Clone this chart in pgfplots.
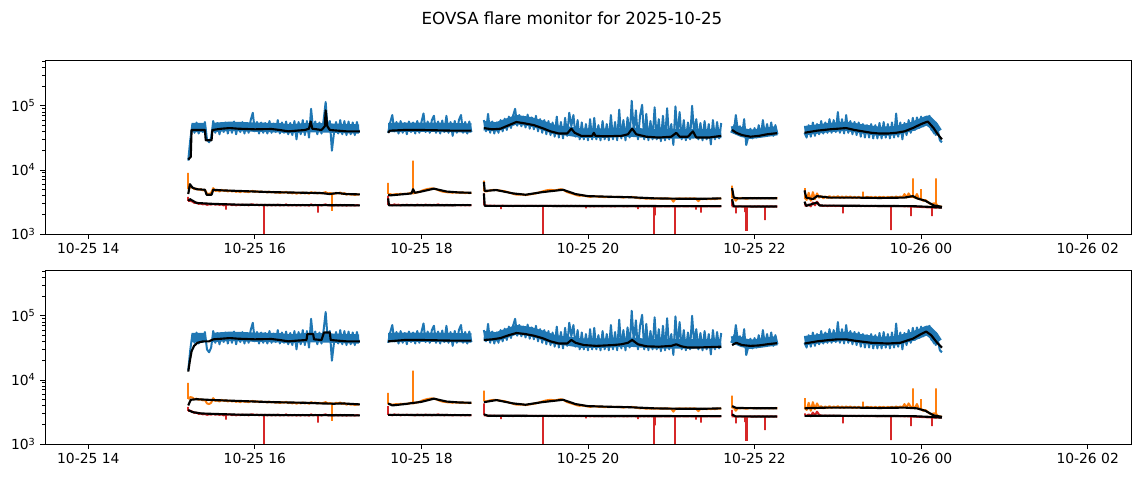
\documentclass[border=0pt]{standalone}
\usepackage{fontspec}
\setmainfont{DejaVu Sans}
\usepackage{pgfplots}
\usepackage{pgfplotstable}
\pgfplotsset{compat=1.18}

\definecolor{tabblue}{HTML}{1F77B4}
\definecolor{taborange}{HTML}{FF7F0E}
\definecolor{tabred}{HTML}{D62728}

% time (hours of 2025-10-25), three channels; nan rows split the observing blocks
\pgfplotstableread{
t b o r
15.200 14000 5000 3300
15.225 30000 5400 3300
15.250 52000 5300 3200
15.275 38000 5000 3050
15.300 55000 5100 3100
15.325 37000 4900 2950
15.350 50000 5000 3000
15.375 39000 4800 2900
15.400 56000 4900 2950
15.425 30000 4300 2850
15.450 27000 4200 2900
15.475 32000 4400 2880
15.500 58000 5200 2950
15.525 38000 4700 2870
15.550 54000 4800 2920
15.575 36000 4600 2850
15.600 52000 4900 2900
15.625 39000 4700 2800
15.650 55000 4800 2850
15.675 37000 4600 2880
15.700 51000 4750 2900
15.725 38000 4600 2820
15.750 57000 4700 2880
15.775 36000 4550 2800
15.800 53000 4650 2870
15.825 39000 4500 2810
15.850 56000 4700 2880
15.875 37000 4550 2820
15.900 54000 4600 2860
15.925 38000 4500 2800
15.950 60000 4650 2880
15.975 78000 4700 2900
16.000 40000 4550 2820
16.025 56000 4650 2870
16.050 37000 4500 2800
16.075 55000 4600 2860
16.100 38000 4500 2820
16.125 54000 4550 2850
16.150 37000 4450 2800
16.175 58000 4600 2860
16.200 38000 4450 2790
16.225 53000 4550 2850
16.250 39000 4400 2800
16.275 60000 4500 2870
16.300 37000 4350 2790
16.325 55000 4500 2840
16.350 38000 4400 2800
16.375 57000 4550 2900
16.400 36000 4350 2780
16.425 54000 4450 2840
16.450 35000 4300 2790
16.475 58000 4450 2850
16.500 30000 4250 2780
16.525 56000 4400 2840
16.550 36000 4300 2780
16.575 60000 4450 2850
16.600 35000 4300 2790
16.625 58000 4400 2840
16.650 32000 4250 2770
16.675 90000 4500 2900
16.700 42000 4350 2800
16.725 57000 4450 2850
16.750 36000 4300 2800
16.775 55000 4400 2840
16.800 37000 4300 2780
16.825 59000 4400 2850
16.850 115000 4500 2900
16.875 42000 4300 2790
16.900 58000 4350 2840
16.925 20000 4300 2780
16.950 38000 4200 2800
16.975 56000 4400 2850
17.000 37000 4300 2790
17.025 60000 4450 2850
17.050 36000 4200 2780
17.075 58000 4350 2840
17.100 35000 4100 2780
17.125 57000 4250 2830
17.150 36000 4100 2790
17.175 55000 4200 2830
17.200 35000 4050 2780
17.225 56000 4150 2820
17.250 38000 4100 2800
17.275 nan nan nan
17.600 38000 4200 2850
17.625 55000 4200 2850
17.650 72000 4100 2800
17.675 40000 4150 2900
17.700 56000 4200 2830
17.725 37000 4150 2870
17.750 58000 4250 2800
17.775 38000 4200 2860
17.800 54000 4250 2820
17.825 36000 4200 2870
17.850 57000 4300 2810
17.875 39000 4400 2850
17.900 55000 4300 2830
17.925 37000 4400 2800
17.950 58000 4450 2870
17.975 38000 4550 2820
18.000 56000 4700 2850
18.025 76000 4850 2800
18.050 39000 4950 2880
18.075 57000 5050 2820
18.100 38000 5100 2860
18.125 60000 5150 2800
18.150 70000 5100 2850
18.175 38000 5000 2820
18.200 57000 4850 2900
18.225 37000 4700 2810
18.250 59000 4600 2850
18.275 39000 4550 2800
18.300 70000 4500 2860
18.325 38000 4450 2820
18.350 56000 4450 2840
18.375 34000 4400 2790
18.400 58000 4500 2850
18.425 38000 4400 2810
18.450 60000 4450 2830
18.475 72000 4400 2800
18.500 38000 4450 2850
18.525 56000 4350 2790
18.550 37000 4400 2840
18.575 57000 4350 2800
18.600 39000 4400 2830
18.625 nan nan nan
18.750 60000 4700 2800
18.775 40000 4600 2800
18.800 75000 4700 2750
18.825 38000 4800 2780
18.850 57000 4850 2740
18.875 37000 4900 2770
18.900 55000 4850 2730
18.925 38000 4800 2760
18.950 60000 4750 2740
18.975 40000 4700 2770
19.000 63000 4650 2740
19.025 42000 4550 2760
19.050 68000 4450 2730
19.075 45000 4350 2750
19.100 70000 4250 2720
19.125 90000 4150 2760
19.150 49000 4100 2740
19.175 72000 4100 2760
19.200 48000 4150 2730
19.225 68000 4100 2750
19.250 46000 4050 2720
19.275 73000 4100 2760
19.300 44000 4150 2740
19.325 66000 4200 2760
19.350 43000 4250 2730
19.375 70000 4300 2750
19.400 40000 4400 2720
19.425 62000 4500 2760
19.450 38000 4600 2740
19.475 60000 4700 2740
19.500 36000 4800 2760
19.525 58000 4850 2730
19.550 35000 4900 2750
19.575 55000 4850 2720
19.600 33000 4800 2750
19.625 68000 4850 2730
19.650 32000 4950 2740
19.675 56000 5000 2720
19.700 31000 4900 2750
19.725 65000 4700 2730
19.750 34000 4500 2740
19.775 78000 4400 2720
19.800 48000 4300 2750
19.825 72000 4200 2720
19.850 33000 4100 2740
19.875 60000 4000 2720
19.900 30000 3950 2740
19.925 55000 4000 2710
19.950 30000 3950 2730
19.975 52000 3900 2710
20.000 29000 3850 2730
20.025 62000 3800 2700
20.050 30000 3850 2720
20.075 65000 3900 2700
20.100 30000 3850 2730
20.125 50000 3800 2710
20.150 29000 3850 2720
20.175 58000 3800 2700
20.200 30000 3750 2730
20.225 52000 3800 2710
20.250 29000 3750 2720
20.275 72000 3800 2700
20.300 30000 3800 2720
20.325 56000 3750 2700
20.350 29000 3800 2730
20.375 87000 3800 2710
20.400 31000 3750 2730
20.425 60000 3700 2700
20.450 29000 3750 2720
20.475 66000 3800 2700
20.500 32000 3750 2730
20.525 120000 3800 2710
20.550 38000 3750 2730
20.575 85000 3700 2700
20.600 30000 3650 2720
20.625 70000 3600 2700
20.650 104000 3650 2720
20.675 30000 3600 2700
20.700 75000 3550 2720
20.725 29000 3600 2700
20.750 58000 3550 2720
20.775 30000 3600 2690
20.800 95000 3550 2700
20.825 30000 3600 2700
20.850 62000 3550 2710
20.875 28000 3600 2690
20.900 70000 3550 2720
20.925 29000 3600 2700
20.950 92000 3550 2710
20.975 30000 3600 2700
21.000 52000 3550 2720
21.025 24500 3200 2690
21.050 98000 3550 2700
21.075 33000 3550 2710
21.100 80000 3600 2700
21.125 30000 3550 2720
21.150 60000 3550 2700
21.175 29000 3600 2710
21.200 55000 3550 2700
21.225 30000 3600 2720
21.250 100000 3550 2690
21.275 36000 3600 2710
21.300 62000 3550 2700
21.325 30000 3250 2710
21.350 54000 3550 2700
21.375 29000 3500 2700
21.400 58000 3550 2710
21.425 30000 3500 2690
21.450 52000 3550 2720
21.475 25000 3500 2700
21.500 60000 3550 2710
21.525 30000 3500 2690
21.550 56000 3600 2710
21.575 31000 3550 2700
21.600 54000 3600 2720
21.625 nan nan nan
21.725 48000 3700 2700
21.750 38000 3700 2700
21.775 72000 3300 2680
21.800 40000 3650 2680
21.825 48000 3600 2700
21.850 35000 3650 2680
21.875 62000 3600 2680
21.900 24500 3550 2680
21.925 33000 3600 2680
21.950 44000 3650 2690
21.975 31000 3600 2670
22.000 45000 3650 2690
22.025 32000 3600 2680
22.050 50000 3650 2700
22.075 33000 3600 2680
22.100 60000 3650 2690
22.125 34000 3600 2680
22.150 52000 3650 2690
22.175 35000 3600 2680
22.200 55000 3650 2700
22.225 34000 3600 2680
22.250 50000 3650 2690
22.275 36000 3600 2680
22.300 nan nan nan
22.600 38000 3700 2800
22.625 32000 3400 2750
22.650 50000 4400 2900
22.675 33000 3300 2700
22.700 55000 4500 3100
22.725 34000 3500 2800
22.750 52000 4300 3200
22.775 36000 3700 2850
22.800 58000 3900 2780
22.825 37000 3600 2740
22.850 55000 3850 2780
22.875 38000 3650 2730
22.900 62000 3900 2770
22.925 38000 3650 2740
22.950 60000 3850 2770
22.975 39000 3700 2730
23.000 80000 3900 2760
23.025 38000 3650 2740
23.050 62000 3850 2740
23.075 37000 3650 2740
23.100 72000 3850 2760
23.125 38000 3700 2730
23.150 58000 3850 2760
23.175 36000 3650 2730
23.200 56000 3800 2750
23.225 35000 3650 2720
23.250 55000 3800 2750
23.275 33000 3650 2720
23.300 52000 3700 2750
23.325 32000 3650 2720
23.350 50000 3800 2740
23.375 32000 3700 2710
23.400 52000 3800 2740
23.425 31000 3650 2720
23.450 50000 3800 2740
23.475 31000 3650 2710
23.500 54000 3800 2730
23.525 31000 3700 2720
23.550 56000 3800 2740
23.575 32000 3650 2710
23.600 52000 3800 2730
23.625 31000 3700 2720
23.650 55000 3800 2720
23.675 32000 3650 2740
23.700 76000 3850 2720
23.725 33000 3700 2730
23.750 55000 3850 2710
23.775 30000 3700 2730
23.800 54000 4200 2700
23.825 35000 3700 2720
23.850 60000 4300 2690
23.875 38000 3800 2690
23.900 65000 3800 2680
23.925 42000 3700 2670
23.950 66000 4200 2660
23.975 45000 3500 2650
24.000 68000 3500 2640
24.025 48000 3300 2630
24.050 66000 3400 2620
24.075 50000 3200 2610
24.100 70000 3000 2600
24.125 42000 2900 2600
24.150 55000 3000 2590
24.175 35000 3000 2580
24.200 42000 2750 2600
24.225 29000 2700 2580
24.250 27000 2650 2600
}\rawdata

% solid core of the blue channel (centre of the noise band)
\pgfplotstableread{
t v
15.24 46000
15.40 46000
15.44 nan
15.49 46000
15.70 48000
16.00 46500
16.30 45500
16.40 44000
16.60 45500
16.80 45500
17.00 44500
17.25 43500
17.30 nan
17.60 46000
18.00 46500
18.30 46000
18.60 45000
18.65 nan
18.75 49000
18.90 47000
19.05 55000
19.14 61000
19.30 57000
19.45 50000
19.60 42500
19.75 40500
19.92 37500
20.20 37500
20.50 39000
20.80 36500
21.20 36500
21.60 37000
21.65 nan
21.73 45000
21.85 38500
21.95 36000
22.10 38000
22.27 41000
22.30 nan
22.60 41000
22.90 46000
23.10 48000
23.30 43500
23.50 40000
23.70 41000
23.90 48000
24.08 60000
24.15 49000
24.20 39000
}\bband

% isolated spikes, drawn as vertical strokes
\pgfplotstableread{
t v
15.20 5000
15.20 9000
15.20 5000
15.20 nan
17.60 4200
17.60 6300
17.60 4200
17.60 nan
18.75 4700
18.75 6800
18.75 4700
18.75 nan
21.73 3700
21.73 5700
21.73 3700
21.73 nan
22.60 3700
22.60 5200
22.60 3700
22.60 nan
16.93 4300
16.93 2300
16.93 4300
16.93 nan
17.90 4300
17.90 14000
17.90 4300
17.90 nan
23.30 3700
23.30 4600
23.30 3700
23.30 nan
23.90 3800
23.90 7400
23.90 3800
23.90 nan
24.00 3500
24.00 5000
24.00 3500
24.00 nan
24.18 3000
24.18 7400
24.18 3000
}\ospk

\pgfplotstableread{
t v
15.20 3300
15.20 3800
15.20 3300
15.20 nan
17.60 2850
17.60 3900
17.60 2850
17.60 nan
18.75 2800
18.75 4300
18.75 2800
18.75 nan
21.73 2700
21.73 3400
21.73 2700
21.73 nan
22.60 2800
22.60 3000
22.60 2800
22.60 nan
15.65 2850
15.65 2400
15.65 2850
15.65 nan
16.11 2820
16.11 400
16.11 2820
16.11 nan
16.76 2800
16.76 2150
16.76 2800
16.76 nan
18.95 2740
18.95 2450
18.95 2740
18.95 nan
19.46 2740
19.46 400
19.46 2740
19.46 nan
19.98 2720
19.98 2500
19.98 2720
19.98 nan
20.60 2720
20.60 2450
20.60 2720
20.60 nan
20.79 2700
20.79 400
20.79 2700
20.79 nan
20.81 2700
20.81 1950
20.81 2700
20.81 nan
21.04 2700
21.04 400
21.04 2700
21.04 nan
21.30 2700
21.30 2400
21.30 2700
21.30 nan
21.36 2700
21.36 2150
21.36 2700
21.36 nan
21.78 2680
21.78 2100
21.78 2680
21.78 nan
21.88 2680
21.88 2200
21.88 2680
21.88 nan
21.90 2680
21.90 1150
21.915 1150
21.915 2680
21.915 nan
22.12 2680
22.12 1650
22.12 2680
22.12 nan
23.06 2740
23.06 2100
23.06 2740
23.06 nan
23.64 2720
23.64 1150
23.64 2720
23.64 nan
23.88 2690
23.88 1900
23.88 2690
23.88 nan
24.13 2600
24.13 1900
24.13 2600
}\rspk

% smoothed curves, upper panel
\pgfplotstableread{
t v
15.20 14500
15.23 16000
15.24 42000
15.30 42000
15.40 42000
15.41 29000
15.48 29000
15.49 42000
15.60 44000
15.70 45000
15.80 44000
16.00 43000
16.20 43500
16.30 42000
16.40 40000
16.50 41000
16.60 42000
16.65 44000
16.67 57000
16.69 44000
16.80 42000
16.84 48000
16.85 85000
16.87 48000
16.90 42000
17.00 41000
17.10 40000
17.26 40000
17.30 nan
17.60 38000
17.62 41000
17.80 42000
18.00 42000
18.20 41500
18.40 41000
18.60 41000
18.65 nan
18.75 45000
18.85 43000
18.95 44000
19.05 50000
19.14 56000
19.25 53000
19.35 50000
19.45 45000
19.55 40000
19.65 37000
19.75 37000
19.80 44000
19.84 38000
19.92 34000
20.05 34000
20.07 38000
20.09 34000
20.20 33500
20.40 34000
20.48 36000
20.53 44000
20.58 36000
20.70 33000
20.85 32000
21.00 33000
21.06 38000
21.10 33000
21.20 33000
21.26 40000
21.30 32000
21.45 32000
21.60 34000
21.65 nan
21.73 42000
21.78 38000
21.85 35000
21.95 33000
22.05 34000
22.15 36000
22.27 37500
22.30 nan
22.60 38000
22.75 41000
22.90 43000
23.00 44000
23.10 45000
23.20 42000
23.30 40000
23.40 38000
23.50 37000
23.60 37000
23.70 38000
23.80 40000
23.90 45000
24.00 52000
24.08 57000
24.15 45000
24.20 36000
24.25 30000
}\btop

\pgfplotstableread{
t v
15.20 4200
15.22 6000
15.25 5300
15.30 5000
15.40 4900
15.42 4100
15.48 4100
15.50 4900
15.60 4800
15.80 4700
16.00 4600
16.20 4500
16.40 4450
16.60 4400
16.80 4350
16.90 4200
16.95 4300
17.00 4350
17.10 4200
17.26 4150
17.30 nan
17.60 4100
17.62 4000
17.80 4200
17.88 4300
17.90 5000
17.92 4400
18.00 4600
18.15 5100
18.30 4600
18.45 4450
18.60 4400
18.65 nan
18.75 6500
18.76 4700
18.90 4850
19.10 4300
19.25 4100
19.45 4500
19.70 4900
19.85 4200
20.00 3900
20.30 3800
20.50 3750
20.80 3600
21.10 3550
21.40 3550
21.60 3600
21.65 nan
21.73 5200
21.75 3700
21.80 3600
22.00 3620
22.27 3620
22.30 nan
22.60 4800
22.62 3700
22.70 3500
22.75 3900
22.90 3700
23.20 3700
23.50 3650
23.80 3700
23.90 3900
23.95 3600
24.05 3300
24.15 2800
24.25 2650
}\otop

\pgfplotstableread{
t v
15.20 3300
15.22 3500
15.30 3050
15.50 2950
15.80 2870
16.20 2830
16.80 2820
17.26 2800
17.30 nan
17.60 3600
17.61 2800
18.60 2820
18.65 nan
18.75 4300
18.76 2750
21.60 2720
21.65 nan
21.73 3500
21.75 2700
22.27 2680
22.30 nan
22.60 3200
22.62 2750
22.75 3100
22.78 2780
23.50 2740
23.90 2720
24.10 2650
24.25 2580
}\rtop

% smoothed curves, lower panel
\pgfplotstableread{
t v
15.20 13500
15.22 20000
15.24 28000
15.27 34000
15.31 38000
15.38 40000
15.45 40000
15.50 43000
15.60 44000
15.70 45000
15.80 44000
16.00 43000
16.20 43500
16.30 42000
16.40 40000
16.50 41000
16.62 42000
16.63 52000
16.70 52000
16.71 43000
16.80 42000
16.83 55000
16.90 55000
16.91 42000
17.00 41000
17.10 40000
17.26 40000
17.30 nan
17.60 40000
17.80 42000
18.00 42000
18.20 41500
18.40 41000
18.60 41000
18.65 nan
18.75 42000
18.85 43000
18.95 45000
19.05 50000
19.14 54000
19.25 52000
19.35 49000
19.45 45000
19.55 40000
19.65 37000
19.75 37000
19.80 42000
19.85 38000
19.95 35000
20.10 34000
20.30 35000
20.40 36000
20.48 38000
20.53 42000
20.60 36000
20.70 33500
20.85 33000
21.00 34000
21.06 36000
21.12 33500
21.20 32000
21.30 32000
21.60 33000
21.65 nan
21.73 35000
21.78 38000
21.85 35000
21.95 34000
22.05 34500
22.15 36000
22.27 37500
22.30 nan
22.60 37000
22.75 40000
22.90 42000
23.00 43000
23.10 43000
23.20 41000
23.40 38000
23.60 37000
23.75 38000
23.90 44000
24.00 52000
24.06 57000
24.12 50000
24.20 37000
24.25 32000
}\bbot

\pgfplotstableread{
t v
15.20 4000
15.23 4900
15.30 5000
15.50 4850
15.80 4700
16.00 4600
16.20 4500
16.40 4450
16.60 4400
16.80 4300
16.95 4250
17.05 4300
17.26 4150
17.30 nan
17.60 4300
17.65 4000
17.80 4200
18.00 4550
18.15 5100
18.30 4600
18.45 4450
18.60 4400
18.65 nan
18.75 4500
18.90 4850
19.10 4300
19.25 4100
19.45 4500
19.70 4900
19.85 4200
20.00 3900
20.30 3800
20.50 3750
20.80 3600
21.10 3550
21.40 3550
21.60 3600
21.65 nan
21.73 3900
21.78 3650
22.00 3620
22.27 3620
22.30 nan
22.60 3600
22.70 3650
22.90 3700
23.20 3700
23.50 3650
23.80 3700
23.95 3600
24.05 3300
24.15 2800
24.25 2650
}\obot

\pgfplotstableread{
t v
15.20 3400
15.25 3150
15.35 3000
15.50 2950
15.80 2870
16.20 2830
16.80 2820
17.26 2800
17.30 nan
17.60 2850
18.60 2820
18.65 nan
18.75 2900
18.80 2760
21.60 2720
21.65 nan
21.73 2900
21.77 2700
22.27 2680
22.30 nan
22.60 2750
22.80 2760
23.50 2740
23.90 2720
24.10 2650
24.25 2580
}\rbot

\begin{document}
\begin{tikzpicture}
\path[use as bounding box] (0,0) rectangle (857.25pt,358.5pt);
\node[font=\fontsize{12.5}{15}\selectfont] at (429pt,345pt) {EOVSA flare monitor for 2025-10-25};

\begin{axis}[
    at={(33.75pt,183pt)}, anchor=south west, scale only axis,
    width=814.5pt, height=130.5pt,
    ymode=log, xmin=13.48, xmax=26.52, ymin=1000, ymax=5.2e5,
    xtick={14,16,18,20,22,24,26},
    xticklabels={10-25 14,10-25 16,10-25 18,10-25 20,10-25 22,10-26 00,10-26 02},
    ytick={1000,10000,100000},
    yticklabels={10\textsuperscript{3},10\textsuperscript{4},10\textsuperscript{5}},
    minor ytick={2000,3000,4000,5000,6000,7000,8000,9000,20000,30000,40000,50000,60000,70000,80000,90000,200000,300000,400000,500000},
    tick pos=left, tick align=outside,
    major tick length=3.6pt, minor tick length=2.1pt,
    every tick/.style={black, line width=0.6pt},
    axis line style={line width=0.6pt},
    tick label style={font=\fontsize{10.4}{12}\selectfont},
    unbounded coords=jump,
  ]
  \addplot[tabblue, line width=7pt, line join=round] table[x=t,y=v]{\bband};
  \addplot[tabblue, line width=1.5pt, line join=round] table[x=t,y=b]{\rawdata};
  \addplot[taborange, line width=1.5pt, line join=round] table[x=t,y=o]{\rawdata};
  \addplot[taborange, line width=1.5pt] table[x=t,y=v]{\ospk};
  \addplot[tabred, line width=1.5pt, line join=round] table[x=t,y=r]{\rawdata};
  \addplot[tabred, line width=1.5pt] table[x=t,y=v]{\rspk};
  \addplot[black, line width=1.6pt, line join=round] table[x=t,y=v]{\btop};
  \addplot[black, line width=1.6pt, line join=round] table[x=t,y=v]{\otop};
  \addplot[black, line width=1.6pt, line join=round] table[x=t,y=v]{\rtop};
\end{axis}

\begin{axis}[
    at={(33.75pt,25.5pt)}, anchor=south west, scale only axis,
    width=814.5pt, height=130.5pt,
    ymode=log, xmin=13.48, xmax=26.52, ymin=1000, ymax=5.2e5,
    xtick={14,16,18,20,22,24,26},
    xticklabels={10-25 14,10-25 16,10-25 18,10-25 20,10-25 22,10-26 00,10-26 02},
    ytick={1000,10000,100000},
    yticklabels={10\textsuperscript{3},10\textsuperscript{4},10\textsuperscript{5}},
    minor ytick={2000,3000,4000,5000,6000,7000,8000,9000,20000,30000,40000,50000,60000,70000,80000,90000,200000,300000,400000,500000},
    tick pos=left, tick align=outside,
    major tick length=3.6pt, minor tick length=2.1pt,
    every tick/.style={black, line width=0.6pt},
    axis line style={line width=0.6pt},
    tick label style={font=\fontsize{10.4}{12}\selectfont},
    unbounded coords=jump,
  ]
  \addplot[tabblue, line width=7pt, line join=round] table[x=t,y=v]{\bband};
  \addplot[tabblue, line width=1.5pt, line join=round] table[x=t,y=b]{\rawdata};
  \addplot[taborange, line width=1.5pt, line join=round] table[x=t,y=o]{\rawdata};
  \addplot[taborange, line width=1.5pt] table[x=t,y=v]{\ospk};
  \addplot[tabred, line width=1.5pt, line join=round] table[x=t,y=r]{\rawdata};
  \addplot[tabred, line width=1.5pt] table[x=t,y=v]{\rspk};
  \addplot[black, line width=1.6pt, line join=round] table[x=t,y=v]{\bbot};
  \addplot[black, line width=1.6pt, line join=round] table[x=t,y=v]{\obot};
  \addplot[black, line width=1.6pt, line join=round] table[x=t,y=v]{\rbot};
\end{axis}
\end{tikzpicture}
\end{document}
